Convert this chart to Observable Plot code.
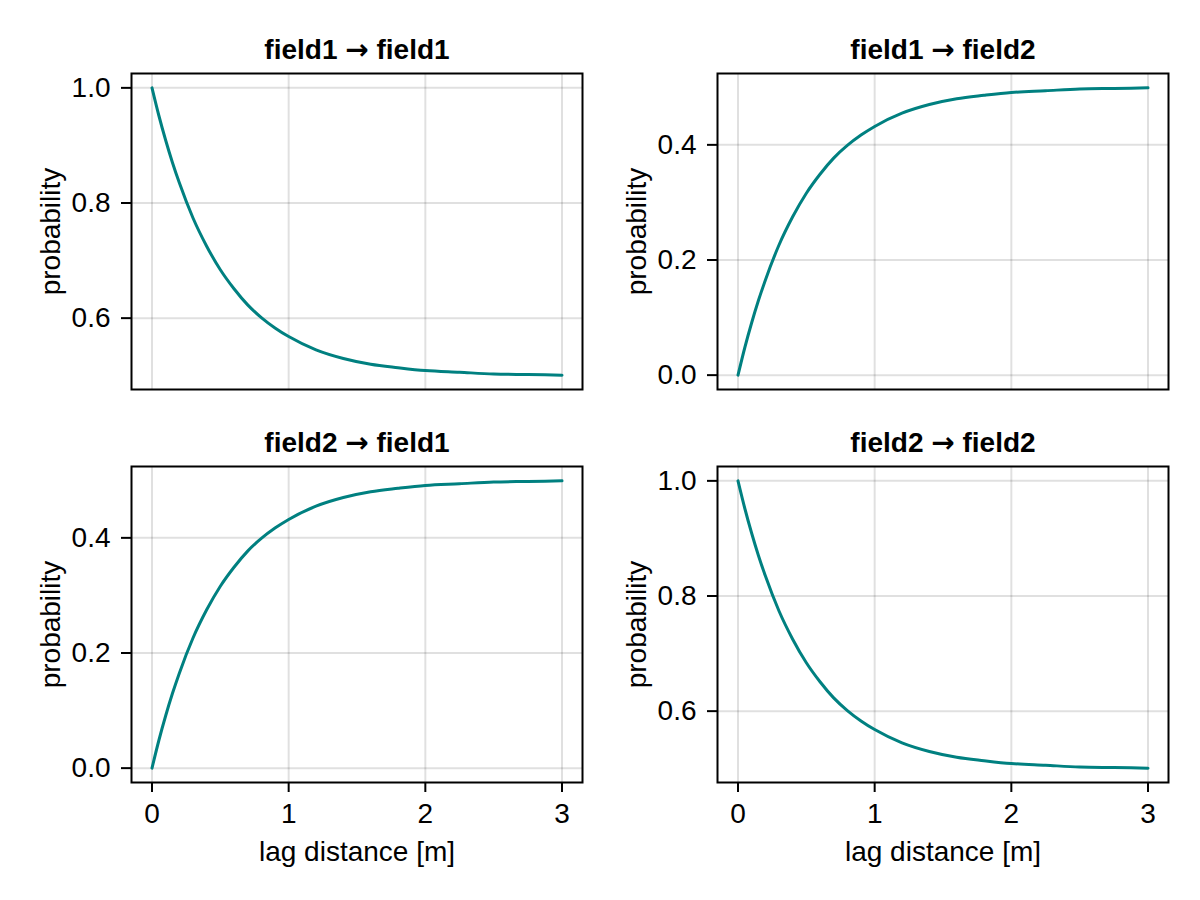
<!DOCTYPE html>
<html>
<head>
<meta charset="utf-8">
<script src="https://cdn.jsdelivr.net/npm/d3@7"></script>
<script src="https://cdn.jsdelivr.net/npm/@observablehq/plot@0.6"></script>
<style>
  html, body { margin: 0; padding: 0; background: #fff; }
  #chart { position: relative; width: 1200px; height: 900px; overflow: hidden; background: #fff; }
  #chart > div { position: absolute; }
</style>
</head>
<body>
<div id="chart"></div>
<script>
// ---- data ----
const lagDistance = [0, 0.05, 0.1, 0.15, 0.2, 0.3, 0.4, 0.5, 0.6, 0.7, 0.8, 0.9, 1.0, 1.2, 1.4, 1.6, 1.8, 2.0, 2.25, 2.5, 2.75, 3.0];
const field1ToField1 = [1.000, 0.952, 0.909, 0.870, 0.835, 0.774, 0.725, 0.684, 0.651, 0.623, 0.601, 0.583, 0.568, 0.545, 0.530, 0.520, 0.514, 0.509, 0.506, 0.503, 0.502, 0.501];
const field1ToField2 = [0.000, 0.048, 0.091, 0.130, 0.165, 0.226, 0.275, 0.316, 0.349, 0.377, 0.399, 0.417, 0.432, 0.455, 0.470, 0.480, 0.486, 0.491, 0.494, 0.497, 0.498, 0.499];
const field2ToField1 = [0.000, 0.048, 0.091, 0.130, 0.165, 0.226, 0.275, 0.316, 0.349, 0.377, 0.399, 0.417, 0.432, 0.455, 0.470, 0.480, 0.486, 0.491, 0.494, 0.497, 0.498, 0.499];
const field2ToField2 = [1.000, 0.952, 0.909, 0.870, 0.835, 0.774, 0.725, 0.684, 0.651, 0.623, 0.601, 0.583, 0.568, 0.545, 0.530, 0.520, 0.514, 0.509, 0.506, 0.503, 0.502, 0.501];
const panelTitles = ["field1 → field1", "field1 → field2", "field2 → field1", "field2 → field2"];
const xTicks = [0, 1, 2, 3];
const yTicksSame = [0.6, 0.8, 1.0];
const yTicksCross = [0.0, 0.2, 0.4];
const xLabel = "lag distance [m]";
const yLabel = "probability";

// ---- layout ----
const FONT = "'Liberation Sans', Arial, Helvetica, sans-serif";
const FS = 28;
const LINE = "#008080";
const panels = [
  {title: panelTitles[0], values: field1ToField1, yTicks: yTicksSame,  left: 0,   top: 0,   bottom: false},
  {title: panelTitles[1], values: field1ToField2, yTicks: yTicksCross, left: 586, top: 0,   bottom: false},
  {title: panelTitles[2], values: field2ToField1, yTicks: yTicksCross, left: 0,   top: 394, bottom: true},
  {title: panelTitles[3], values: field2ToField2, yTicks: yTicksSame,  left: 586, top: 394, bottom: true}
];

const chart = document.getElementById("chart");
for (const p of panels) {
  const data = lagDistance.map((h, i) => ({h, v: p.values[i]}));
  const lo = d3.min(p.values), hi = d3.max(p.values), pad = (hi - lo) * 0.05;
  const height = p.bottom ? 506 : 450;
  const marginTop = p.bottom ? 72 : 73;
  const marginBottom = height - marginTop - 316;
  const marks = [
    Plot.gridX({ticks: xTicks, stroke: "black", strokeOpacity: 0.12, strokeWidth: 2}),
    Plot.gridY({ticks: p.yTicks, stroke: "black", strokeOpacity: 0.12, strokeWidth: 2}),
    Plot.line(data, {x: "h", y: "v", stroke: LINE, strokeWidth: 3, curve: "monotone-x"}),
    Plot.frame({stroke: "black", strokeWidth: 2}),
    Plot.axisY({ticks: p.yTicks, tickSize: 10, tickPadding: 11, strokeWidth: 2, tickFormat: d3.format(".1f"), label: null, fontSize: FS}),
    Plot.text([p.title], {text: d => d, frameAnchor: "top", dy: -15, lineAnchor: "bottom", fontWeight: "bold", fontSize: FS}),
    Plot.text([yLabel], {text: d => d, frameAnchor: "left", dx: -72, rotate: -90, textAnchor: "middle", lineAnchor: "bottom", fontSize: FS})
  ];
  if (p.bottom) {
    marks.push(
      Plot.axisX({ticks: xTicks, tickSize: 10, tickPadding: 11, strokeWidth: 2, tickFormat: d3.format("d"), label: null, fontSize: FS}),
      Plot.text([xLabel], {text: d => d, frameAnchor: "bottom", dy: 78, lineAnchor: "bottom", fontSize: FS})
    );
  }
  const svg = Plot.plot({
    width: 600,
    height,
    marginLeft: 131,
    marginRight: 18,
    marginTop,
    marginBottom,
    x: {domain: [-0.15, 3.15], axis: null},
    y: {domain: [lo - pad, hi + pad], axis: null},
    style: {fontFamily: FONT, fontSize: FS + "px", color: "black", background: "transparent", overflow: "visible"},
    marks
  });
  // draw the arrow glyph with a font that has a full-size arrow
  svg.querySelectorAll("text").forEach((t) => {
    const s = t.textContent;
    if (!s.includes("→")) return;
    const [a, b] = s.split("→");
    t.textContent = "";
    const ns = "http://www.w3.org/2000/svg";
    const t1 = document.createElementNS(ns, "tspan"); t1.textContent = a;
    const t2 = document.createElementNS(ns, "tspan"); t2.textContent = "→";
    t2.setAttribute("font-family", "'DejaVu Sans', sans-serif");
    const t3 = document.createElementNS(ns, "tspan"); t3.textContent = b;
    t.append(t1, t2, t3);
  });
  const wrap = document.createElement("div");
  wrap.style.left = p.left + "px";
  wrap.style.top = p.top + "px";
  wrap.appendChild(svg);
  chart.appendChild(wrap);
}
</script>
</body>
</html>
